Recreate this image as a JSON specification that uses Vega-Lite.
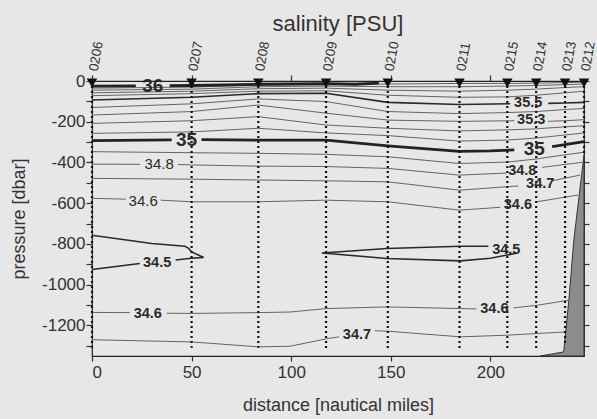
{
  "$schema": "https://vega.github.io/schema/vega-lite/v6.json",
  "width": 492,
  "height": 275,
  "autosize": {"type": "none"},
  "padding": {"left": 92, "top": 81, "right": 13, "bottom": 63},
  "background": "#e7e7e7",
  "title": {"text": "salinity [PSU]", "fontSize": 22, "font": "Liberation Sans", "fontWeight": "normal", "color": "#333333", "anchor": "middle", "offset": 4},
  "config": {"view": {"stroke": "#222222", "strokeWidth": 1.2}, "font": "Liberation Sans"},
  "datasets": {
    "contours": [
      {"id":"359","lvl":35.9,"i":0,"x":0,"y":-35},{"id":"359","lvl":35.9,"i":1,"x":50,"y":-30},{"id":"359","lvl":35.9,"i":2,"x":83.5,"y":-20},{"id":"359","lvl":35.9,"i":3,"x":117.5,"y":-18},{"id":"359","lvl":35.9,"i":4,"x":148.5,"y":-15},{"id":"359","lvl":35.9,"i":5,"x":184.5,"y":-12},{"id":"359","lvl":35.9,"i":6,"x":208.5,"y":-12},{"id":"359","lvl":35.9,"i":7,"x":223,"y":-10},{"id":"359","lvl":35.9,"i":8,"x":237.5,"y":-8},{"id":"359","lvl":35.9,"i":9,"x":247,"y":-6},
      {"id":"358","lvl":35.8,"i":0,"x":0,"y":-45},{"id":"358","lvl":35.8,"i":1,"x":50,"y":-40},{"id":"358","lvl":35.8,"i":2,"x":83.5,"y":-28},{"id":"358","lvl":35.8,"i":3,"x":117.5,"y":-25},{"id":"358","lvl":35.8,"i":4,"x":148.5,"y":-28},{"id":"358","lvl":35.8,"i":5,"x":184.5,"y":-28},{"id":"358","lvl":35.8,"i":6,"x":208.5,"y":-25},{"id":"358","lvl":35.8,"i":7,"x":223,"y":-22},{"id":"358","lvl":35.8,"i":8,"x":237.5,"y":-18},{"id":"358","lvl":35.8,"i":9,"x":247,"y":-15},
      {"id":"357","lvl":35.7,"i":0,"x":0,"y":-58},{"id":"357","lvl":35.7,"i":1,"x":50,"y":-50},{"id":"357","lvl":35.7,"i":2,"x":83.5,"y":-38},{"id":"357","lvl":35.7,"i":3,"x":117.5,"y":-35},{"id":"357","lvl":35.7,"i":4,"x":148.5,"y":-45},{"id":"357","lvl":35.7,"i":5,"x":184.5,"y":-50},{"id":"357","lvl":35.7,"i":6,"x":208.5,"y":-45},{"id":"357","lvl":35.7,"i":7,"x":223,"y":-40},{"id":"357","lvl":35.7,"i":8,"x":237.5,"y":-32},{"id":"357","lvl":35.7,"i":9,"x":247,"y":-28},
      {"id":"356","lvl":35.6,"i":0,"x":0,"y":-72},{"id":"356","lvl":35.6,"i":1,"x":50,"y":-62},{"id":"356","lvl":35.6,"i":2,"x":83.5,"y":-50},{"id":"356","lvl":35.6,"i":3,"x":117.5,"y":-48},{"id":"356","lvl":35.6,"i":4,"x":148.5,"y":-70},{"id":"356","lvl":35.6,"i":5,"x":184.5,"y":-80},{"id":"356","lvl":35.6,"i":6,"x":208.5,"y":-78},{"id":"356","lvl":35.6,"i":7,"x":223,"y":-70},{"id":"356","lvl":35.6,"i":8,"x":237.5,"y":-58},{"id":"356","lvl":35.6,"i":9,"x":247,"y":-50},
      {"id":"355a","lvl":35.5,"i":0,"x":0,"y":-93},{"id":"355a","lvl":35.5,"i":1,"x":50,"y":-80},{"id":"355a","lvl":35.5,"i":2,"x":83.5,"y":-62},{"id":"355a","lvl":35.5,"i":3,"x":117.5,"y":-60},{"id":"355a","lvl":35.5,"i":4,"x":148.5,"y":-105},{"id":"355a","lvl":35.5,"i":5,"x":184.5,"y":-115},{"id":"355a","lvl":35.5,"i":6,"x":210,"y":-112},
      {"id":"355b","lvl":35.5,"i":0,"x":229,"y":-110},{"id":"355b","lvl":35.5,"i":1,"x":237.5,"y":-108},{"id":"355b","lvl":35.5,"i":2,"x":247,"y":-105},
      {"id":"354","lvl":35.4,"i":0,"x":0,"y":-130},{"id":"354","lvl":35.4,"i":1,"x":50,"y":-112},{"id":"354","lvl":35.4,"i":2,"x":83.5,"y":-88},{"id":"354","lvl":35.4,"i":3,"x":117.5,"y":-101},{"id":"354","lvl":35.4,"i":4,"x":148.5,"y":-150},{"id":"354","lvl":35.4,"i":5,"x":184.5,"y":-160},{"id":"354","lvl":35.4,"i":6,"x":208.5,"y":-155},{"id":"354","lvl":35.4,"i":7,"x":223,"y":-150},{"id":"354","lvl":35.4,"i":8,"x":237.5,"y":-140},{"id":"354","lvl":35.4,"i":9,"x":247,"y":-135},
      {"id":"353a","lvl":35.3,"i":0,"x":0,"y":-167},{"id":"353a","lvl":35.3,"i":1,"x":50,"y":-150},{"id":"353a","lvl":35.3,"i":2,"x":83.5,"y":-118},{"id":"353a","lvl":35.3,"i":3,"x":117.5,"y":-158},{"id":"353a","lvl":35.3,"i":4,"x":148.5,"y":-192},{"id":"353a","lvl":35.3,"i":5,"x":184.5,"y":-198},{"id":"353a","lvl":35.3,"i":6,"x":212,"y":-195},
      {"id":"353b","lvl":35.3,"i":0,"x":229,"y":-198},{"id":"353b","lvl":35.3,"i":1,"x":237.5,"y":-195},{"id":"353b","lvl":35.3,"i":2,"x":247,"y":-190},
      {"id":"352","lvl":35.2,"i":0,"x":0,"y":-208},{"id":"352","lvl":35.2,"i":1,"x":50,"y":-195},{"id":"352","lvl":35.2,"i":2,"x":83.5,"y":-175},{"id":"352","lvl":35.2,"i":3,"x":117.5,"y":-216},{"id":"352","lvl":35.2,"i":4,"x":148.5,"y":-232},{"id":"352","lvl":35.2,"i":5,"x":184.5,"y":-245},{"id":"352","lvl":35.2,"i":6,"x":208.5,"y":-240},{"id":"352","lvl":35.2,"i":7,"x":223,"y":-235},{"id":"352","lvl":35.2,"i":8,"x":237.5,"y":-225},{"id":"352","lvl":35.2,"i":9,"x":247,"y":-220},
      {"id":"351","lvl":35.1,"i":0,"x":0,"y":-257},{"id":"351","lvl":35.1,"i":1,"x":50,"y":-250},{"id":"351","lvl":35.1,"i":2,"x":83.5,"y":-232},{"id":"351","lvl":35.1,"i":3,"x":117.5,"y":-255},{"id":"351","lvl":35.1,"i":4,"x":148.5,"y":-268},{"id":"351","lvl":35.1,"i":5,"x":184.5,"y":-295},{"id":"351","lvl":35.1,"i":6,"x":208.5,"y":-290},{"id":"351","lvl":35.1,"i":7,"x":223,"y":-280},{"id":"351","lvl":35.1,"i":8,"x":237.5,"y":-265},{"id":"351","lvl":35.1,"i":9,"x":247,"y":-255},
      {"id":"36a","lvl":36,"i":0,"x":0,"y":-25},{"id":"36a","lvl":36,"i":1,"x":22,"y":-24},
      {"id":"36b","lvl":36,"i":0,"x":39,"y":-23},{"id":"36b","lvl":36,"i":1,"x":50,"y":-22},{"id":"36b","lvl":36,"i":2,"x":83.5,"y":-16},{"id":"36b","lvl":36,"i":3,"x":117.5,"y":-13},{"id":"36b","lvl":36,"i":4,"x":132,"y":-16},{"id":"36b","lvl":36,"i":5,"x":144,"y":-10},
      {"id":"35a","lvl":35,"i":0,"x":0,"y":-293},{"id":"35a","lvl":35,"i":1,"x":40,"y":-289},
      {"id":"35b","lvl":35,"i":0,"x":55,"y":-288},{"id":"35b","lvl":35,"i":1,"x":83.5,"y":-290},{"id":"35b","lvl":35,"i":2,"x":117.5,"y":-290},{"id":"35b","lvl":35,"i":3,"x":148.5,"y":-318},{"id":"35b","lvl":35,"i":4,"x":184.5,"y":-345},{"id":"35b","lvl":35,"i":5,"x":200,"y":-343},{"id":"35b","lvl":35,"i":6,"x":212,"y":-338},
      {"id":"35c","lvl":35,"i":0,"x":231,"y":-322},{"id":"35c","lvl":35,"i":1,"x":247,"y":-298},
      {"id":"349","lvl":34.9,"i":0,"x":0,"y":-347},{"id":"349","lvl":34.9,"i":1,"x":50,"y":-352},{"id":"349","lvl":34.9,"i":2,"x":83.5,"y":-355},{"id":"349","lvl":34.9,"i":3,"x":117.5,"y":-360},{"id":"349","lvl":34.9,"i":4,"x":148.5,"y":-372},{"id":"349","lvl":34.9,"i":5,"x":184.5,"y":-405},{"id":"349","lvl":34.9,"i":6,"x":208.5,"y":-398},{"id":"349","lvl":34.9,"i":7,"x":223,"y":-383},{"id":"349","lvl":34.9,"i":8,"x":237.5,"y":-362},{"id":"349","lvl":34.9,"i":9,"x":247,"y":-350},
      {"id":"348a","lvl":34.8,"i":0,"x":0,"y":-408},{"id":"348a","lvl":34.8,"i":1,"x":24,"y":-409},
      {"id":"348b","lvl":34.8,"i":0,"x":43,"y":-410},{"id":"348b","lvl":34.8,"i":1,"x":50,"y":-412},{"id":"348b","lvl":34.8,"i":2,"x":83.5,"y":-418},{"id":"348b","lvl":34.8,"i":3,"x":117.5,"y":-420},{"id":"348b","lvl":34.8,"i":4,"x":148.5,"y":-429},{"id":"348b","lvl":34.8,"i":5,"x":184.5,"y":-462},{"id":"348b","lvl":34.8,"i":6,"x":208,"y":-452},
      {"id":"348c","lvl":34.8,"i":0,"x":226,"y":-424},{"id":"348c","lvl":34.8,"i":1,"x":247,"y":-398},
      {"id":"347a","lvl":34.7,"i":0,"x":0,"y":-478},{"id":"347a","lvl":34.7,"i":1,"x":50,"y":-482},{"id":"347a","lvl":34.7,"i":2,"x":83.5,"y":-486},{"id":"347a","lvl":34.7,"i":3,"x":117.5,"y":-490},{"id":"347a","lvl":34.7,"i":4,"x":148.5,"y":-495},{"id":"347a","lvl":34.7,"i":5,"x":184.5,"y":-536},{"id":"347a","lvl":34.7,"i":6,"x":214,"y":-515},
      {"id":"347b","lvl":34.7,"i":0,"x":231,"y":-490},{"id":"347b","lvl":34.7,"i":1,"x":245,"y":-462},
      {"id":"346a","lvl":34.6,"i":0,"x":0,"y":-576},{"id":"346a","lvl":34.6,"i":1,"x":17,"y":-580},
      {"id":"346b","lvl":34.6,"i":0,"x":34.5,"y":-585},{"id":"346b","lvl":34.6,"i":1,"x":50,"y":-593},{"id":"346b","lvl":34.6,"i":2,"x":83.5,"y":-593},{"id":"346b","lvl":34.6,"i":3,"x":117.5,"y":-585},{"id":"346b","lvl":34.6,"i":4,"x":148.5,"y":-593},{"id":"346b","lvl":34.6,"i":5,"x":184.5,"y":-634},{"id":"346b","lvl":34.6,"i":6,"x":205,"y":-620},
      {"id":"346c","lvl":34.6,"i":0,"x":222.6,"y":-594},{"id":"346c","lvl":34.6,"i":1,"x":244,"y":-560},
      {"id":"345a","lvl":34.5,"i":0,"x":0,"y":-757},{"id":"345a","lvl":34.5,"i":1,"x":30,"y":-798},{"id":"345a","lvl":34.5,"i":2,"x":46.7,"y":-811},{"id":"345a","lvl":34.5,"i":3,"x":48.5,"y":-822},{"id":"345a","lvl":34.5,"i":4,"x":50,"y":-839},{"id":"345a","lvl":34.5,"i":5,"x":56,"y":-866},{"id":"345a","lvl":34.5,"i":6,"x":50,"y":-870},{"id":"345a","lvl":34.5,"i":7,"x":42,"y":-879},
      {"id":"345b","lvl":34.5,"i":0,"x":24,"y":-896},{"id":"345b","lvl":34.5,"i":1,"x":0,"y":-925},
      {"id":"345c","lvl":34.5,"i":0,"x":199,"y":-811},{"id":"345c","lvl":34.5,"i":1,"x":185,"y":-811},{"id":"345c","lvl":34.5,"i":2,"x":148,"y":-822},{"id":"345c","lvl":34.5,"i":3,"x":115.4,"y":-844},{"id":"345c","lvl":34.5,"i":4,"x":148,"y":-871},{"id":"345c","lvl":34.5,"i":5,"x":185,"y":-883},{"id":"345c","lvl":34.5,"i":6,"x":200,"y":-870},{"id":"345c","lvl":34.5,"i":7,"x":213,"y":-846},
      {"id":"346La","lvl":34.6,"i":0,"x":0,"y":-1136},{"id":"346La","lvl":34.6,"i":1,"x":19,"y":-1137},
      {"id":"346Lb","lvl":34.6,"i":0,"x":37.5,"y":-1140},{"id":"346Lb","lvl":34.6,"i":1,"x":50,"y":-1141},{"id":"346Lb","lvl":34.6,"i":2,"x":83.5,"y":-1137},{"id":"346Lb","lvl":34.6,"i":3,"x":99.5,"y":-1134},{"id":"346Lb","lvl":34.6,"i":4,"x":118,"y":-1117},{"id":"346Lb","lvl":34.6,"i":5,"x":148,"y":-1109},{"id":"346Lb","lvl":34.6,"i":6,"x":185,"y":-1117},{"id":"346Lb","lvl":34.6,"i":7,"x":193,"y":-1119},
      {"id":"346Lc","lvl":34.6,"i":0,"x":211.6,"y":-1114},{"id":"346Lc","lvl":34.6,"i":1,"x":223.4,"y":-1101},{"id":"346Lc","lvl":34.6,"i":2,"x":239.4,"y":-1076},
      {"id":"347La","lvl":34.7,"i":0,"x":0,"y":-1270},{"id":"347La","lvl":34.7,"i":1,"x":50,"y":-1281},{"id":"347La","lvl":34.7,"i":2,"x":83.5,"y":-1305},{"id":"347La","lvl":34.7,"i":3,"x":99.5,"y":-1302},{"id":"347La","lvl":34.7,"i":4,"x":118,"y":-1265},{"id":"347La","lvl":34.7,"i":5,"x":124,"y":-1256},
      {"id":"347Lb","lvl":34.7,"i":0,"x":142,"y":-1226},{"id":"347Lb","lvl":34.7,"i":1,"x":148,"y":-1228},{"id":"347Lb","lvl":34.7,"i":2,"x":185,"y":-1256},{"id":"347Lb","lvl":34.7,"i":3,"x":208,"y":-1248},{"id":"347Lb","lvl":34.7,"i":4,"x":237.8,"y":-1232}
    ],
    "labels": [
      {"t":"36","x":30.5,"y":-25},
      {"t":"35","x":47.5,"y":-289},
      {"t":"35","x":222,"y":-333},
      {"t":"35.5","x":219,"y":-110},
      {"t":"35.3","x":220.5,"y":-192},
      {"t":"34.8","x":216,"y":-440},
      {"t":"34.7","x":225,"y":-505},
      {"t":"34.8","x":33.7,"y":-409},
      {"t":"34.6","x":25.7,"y":-588},
      {"t":"34.6","x":213.8,"y":-609},
      {"t":"34.5","x":32.7,"y":-893},
      {"t":"34.5","x":208,"y":-830},
      {"t":"34.6","x":28,"y":-1143},
      {"t":"34.6","x":202,"y":-1120},
      {"t":"34.7","x":133,"y":-1248}
    ],
    "stations": [
      {"s":"0206","x":0,"top":0,"b":-1310},
      {"s":"0207","x":50,"top":0,"b":-1310},
      {"s":"0208","x":83.5,"top":0,"b":-1310},
      {"s":"0209","x":117.5,"top":0,"b":-1320},
      {"s":"0210","x":148.5,"top":0,"b":-1320},
      {"s":"0211","x":184.5,"top":0,"b":-1320},
      {"s":"0215","x":208.5,"top":0,"b":-1320},
      {"s":"0214","x":223,"top":0,"b":-1320},
      {"s":"0213","x":237.5,"top":0,"b":-1300},
      {"s":"0212","x":247,"top":0,"b":-362}
    ],
    "bathy": [
      {"x":225,"y":-1350,"base":-1350},
      {"x":236.8,"y":-1330,"base":-1350},
      {"x":239.4,"y":-1076,"base":-1350},
      {"x":241.9,"y":-781,"base":-1350},
      {"x":247,"y":-364,"base":-1350}
    ]
  },
  "layer": [
    {
      "data": {"name": "bathy"},
      "mark": {"type": "area", "fill": "#8c8c8c", "stroke": "#333333", "strokeWidth": 1},
      "encoding": {
        "x": {"field": "x", "type": "quantitative", "scale": {"domain": [0, 247], "nice": false, "zero": false},
          "axis": {"orient": "bottom", "values": [0, 50, 100, 150, 200], "title": "distance [nautical miles]", "titleFont": "Liberation Sans", "titleFontSize": 18, "titleFontWeight": "normal", "titleColor": "#333333", "titleBaseline": "alphabetic", "titleY": 54, "labelFont": "Liberation Sans", "labelFontSize": 17, "labelColor": "#333333", "labelPadding": 3, "tickSize": 5, "tickColor": "#333333", "tickWidth": 1.2, "domain": false, "grid": false, "format": "d"}},
        "y": {"field": "y", "type": "quantitative", "scale": {"domain": [-1350, 0], "nice": false, "zero": false},
          "axis": {"orient": "left", "values": [-1300,-1200,-1100,-1000,-900,-800,-700,-600,-500,-400,-300,-200,-100,0], "labelExpr": "datum.value % 200 === 0 ? toString(datum.value) : ''", "title": "pressure [dbar]", "titleFont": "Liberation Sans", "titleFontSize": 18, "titleFontWeight": "normal", "titleColor": "#333333", "titleBaseline": "alphabetic", "titleX": -68, "labelFont": "Liberation Sans", "labelFontSize": 17, "labelColor": "#333333", "labelPadding": 1, "tickSize": 6, "tickColor": "#333333", "tickWidth": 1.2, "domain": false, "grid": false}},
        "y2": {"field": "base"}
      }
    },
    {
      "data": {"name": "contours"},
      "transform": [{"filter": "datum.lvl != 35 && datum.lvl != 36 && datum.lvl != 34.5 && datum.lvl != 35.5"}],
      "mark": {"type": "line", "stroke": "#555555", "strokeWidth": 0.9},
      "encoding": {
        "x": {"field": "x", "type": "quantitative", "scale": {"domain": [0, 247], "nice": false, "zero": false},
          "axis": {"orient": "top", "values": [0, 50, 100, 150, 200], "labels": false, "title": null, "tickSize": 6, "tickColor": "#333333", "tickWidth": 1.2, "domain": false, "grid": false}},
        "y": {"field": "y", "type": "quantitative", "scale": {"domain": [-1350, 0], "nice": false, "zero": false},
          "axis": {"orient": "right", "values": [-1300,-1200,-1100,-1000,-900,-800,-700,-600,-500,-400,-300,-200,-100,0], "labels": false, "title": null, "tickSize": 5, "tickColor": "#333333", "tickWidth": 1.2, "domain": false, "grid": false}},
        "detail": {"field": "id"},
        "order": {"field": "i", "type": "quantitative"}
      }
    },
    {
      "data": {"name": "contours"},
      "transform": [{"filter": "datum.lvl == 34.5 || datum.lvl == 35.5"}],
      "mark": {"type": "line", "stroke": "#2a2a2a", "strokeWidth": 1.6},
      "encoding": {
        "x": {"field": "x", "type": "quantitative", "scale": {"domain": [0, 247], "nice": false, "zero": false}, "axis": null},
        "y": {"field": "y", "type": "quantitative", "scale": {"domain": [-1350, 0], "nice": false, "zero": false}, "axis": null},
        "detail": {"field": "id"},
        "order": {"field": "i", "type": "quantitative"}
      }
    },
    {
      "data": {"name": "contours"},
      "transform": [{"filter": "datum.lvl == 35 || datum.lvl == 36"}],
      "mark": {"type": "line", "stroke": "#222222", "strokeWidth": 2.8},
      "encoding": {
        "x": {"field": "x", "type": "quantitative", "scale": {"domain": [0, 247], "nice": false, "zero": false}, "axis": null},
        "y": {"field": "y", "type": "quantitative", "scale": {"domain": [-1350, 0], "nice": false, "zero": false}, "axis": null},
        "detail": {"field": "id"},
        "order": {"field": "i", "type": "quantitative"}
      }
    },
    {
      "data": {"name": "stations"},
      "mark": {"type": "rule", "stroke": "#111111", "strokeWidth": 2.2, "strokeDash": [2, 3]},
      "encoding": {
        "x": {"field": "x", "type": "quantitative", "scale": {"domain": [0, 247], "nice": false, "zero": false}, "axis": null},
        "y": {"field": "top", "type": "quantitative", "scale": {"domain": [-1350, 0], "nice": false, "zero": false}, "axis": null},
        "y2": {"field": "b"}
      }
    },
    {
      "data": {"name": "stations"},
      "mark": {"type": "point", "shape": "triangle-down", "filled": true, "color": "#111111", "size": 110, "opacity": 1, "yOffset": 2},
      "encoding": {
        "x": {"field": "x", "type": "quantitative", "scale": {"domain": [0, 247], "nice": false, "zero": false}, "axis": null},
        "y": {"field": "top", "type": "quantitative", "scale": {"domain": [-1350, 0], "nice": false, "zero": false}, "axis": null}
      }
    },
    {
      "data": {"name": "stations"},
      "mark": {"type": "text", "angle": -80, "align": "left", "baseline": "middle", "dx": 10, "font": "Liberation Sans", "fontSize": 13.5, "color": "#333333"},
      "encoding": {
        "x": {"field": "x", "type": "quantitative", "scale": {"domain": [0, 247], "nice": false, "zero": false}, "axis": null},
        "y": {"field": "top", "type": "quantitative", "scale": {"domain": [-1350, 0], "nice": false, "zero": false}, "axis": null},
        "text": {"field": "s"}
      }
    },
    {
      "data": {"name": "labels"},
      "transform": [{"filter": "length(datum.t) == 2"}],
      "mark": {"type": "text", "align": "center", "baseline": "middle", "font": "Liberation Sans", "fontSize": 19, "fontWeight": "bold", "color": "#2a2a2a"},
      "encoding": {
        "x": {"field": "x", "type": "quantitative", "scale": {"domain": [0, 247], "nice": false, "zero": false}, "axis": null},
        "y": {"field": "y", "type": "quantitative", "scale": {"domain": [-1350, 0], "nice": false, "zero": false}, "axis": null},
        "text": {"field": "t"}
      }
    },
    {
      "data": {"name": "labels"},
      "transform": [{"filter": "length(datum.t) > 2 && !(datum.x < 100 && datum.y > -700)"}],
      "mark": {"type": "text", "align": "center", "baseline": "middle", "font": "Liberation Sans", "fontSize": 14.5, "fontWeight": "bold", "color": "#2a2a2a"},
      "encoding": {
        "x": {"field": "x", "type": "quantitative", "scale": {"domain": [0, 247], "nice": false, "zero": false}, "axis": null},
        "y": {"field": "y", "type": "quantitative", "scale": {"domain": [-1350, 0], "nice": false, "zero": false}, "axis": null},
        "text": {"field": "t"}
      }
    },
    {
      "data": {"name": "labels"},
      "transform": [{"filter": "length(datum.t) > 2 && datum.x < 100 && datum.y > -700"}],
      "mark": {"type": "text", "align": "center", "baseline": "middle", "font": "Liberation Sans", "fontSize": 15, "fontWeight": "normal", "color": "#2a2a2a"},
      "encoding": {
        "x": {"field": "x", "type": "quantitative", "scale": {"domain": [0, 247], "nice": false, "zero": false}, "axis": null},
        "y": {"field": "y", "type": "quantitative", "scale": {"domain": [-1350, 0], "nice": false, "zero": false}, "axis": null},
        "text": {"field": "t"}
      }
    }
  ],
  "resolve": {"axis": {"x": "independent", "y": "independent"}}
}
